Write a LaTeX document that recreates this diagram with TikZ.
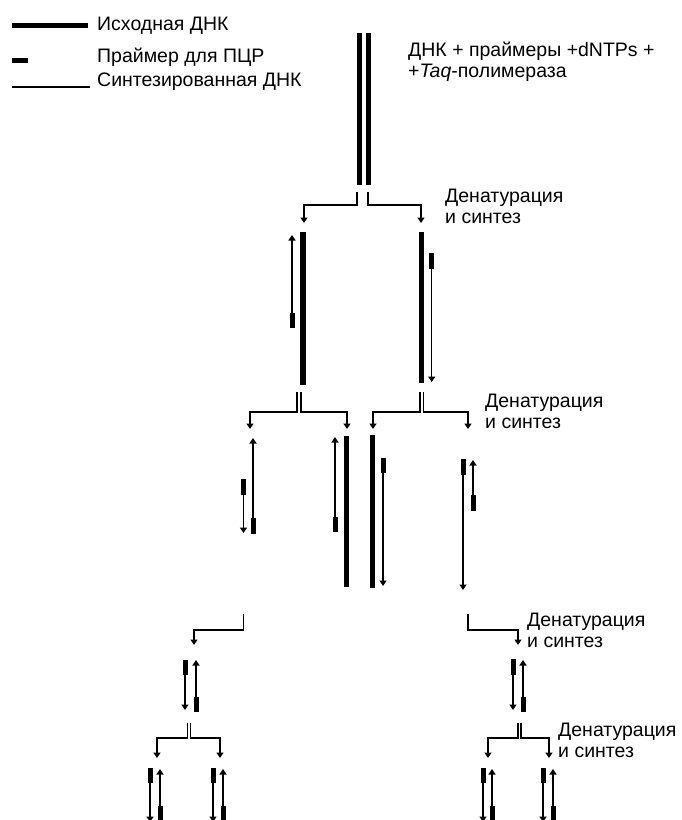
\documentclass[tikz,border=0pt]{standalone}
\usepackage{fontspec}
\setmainfont{Liberation Sans}
\usetikzlibrary{arrows.meta}

% parent (template) strand: a thick bar between two named ends
\newcommand{\parentstrand}[4]{%
  \coordinate (#1-a) at (#2,#3);
  \coordinate (#1-b) at (#2,#4);
  \draw[orig] (#1-a) -- (#1-b);}
% new strand: primer block, then thin synthesised line ending in an arrow
\newcommand{\newstrand}[5]{%
  \coordinate (#1-p) at (#2,#3);
  \coordinate (#1-q) at (#2,#4);
  \coordinate (#1-t) at (#2,#5);
  \draw[primer] (#1-p) -- (#1-q);
  \draw[synth,tipped] (#1-q) -- (#1-t);}
% split: short vertical from a strand pair, elbow, arrow down to a daughter
\newcommand{\splitlink}[6]{%
  \coordinate (#1-s) at (#2,#3);
  \coordinate (#1-e) at (#5,#6);
  \draw[link] (#1-s) |- (#5,#4) -- (#1-e);}

\begin{document}
\begin{tikzpicture}[x=1pt,y=-1pt,
  orig/.style={line width=5.2pt},
  primer/.style={line width=5pt},
  synth/.style={line width=1.5pt},
  tipped/.style={-{Triangle[width=7pt,length=5.5pt]}},
  link/.style={line width=1.5pt,-{Triangle[width=7pt,length=5.5pt]}},
  lbl/.style={anchor=north west,inner sep=0pt,align=left,
              font=\fontsize{19.5}{21}\selectfont}]
\useasboundingbox (0,0) rectangle (681,820);

% ---------- legend ----------
\coordinate (lg1a) at (12,25.5); \coordinate (lg1b) at (88,25.5);
\coordinate (lg2a) at (12,60);   \coordinate (lg2b) at (28,60);
\coordinate (lg3a) at (12,87);   \coordinate (lg3b) at (90,87);
\draw[orig]   (lg1a) -- (lg1b);
\draw[primer] (lg2a) -- (lg2b);
\draw[synth]  (lg3a) -- (lg3b);
\node[lbl] (t-lg1) at (97,17) {Исходная ДНК};
\node[lbl] (t-lg2) at (97,47.5) {Праймер для ПЦР};
\node[lbl] (t-lg3) at (97,72.5) {Синтезированная ДНК};

% ---------- starting duplex ----------
\parentstrand{d0l}{359.5}{33}{185}
\parentstrand{d0r}{368.5}{33}{185}
\node[lbl] (t-mix) at (408,41.5) {ДНК + праймеры +dNTPs +\\+\textit{Taq}-полимераза};

% ---------- cycle 1 ----------
\splitlink{c1l}{357}{192}{205}{304}{223}
\splitlink{c1r}{368}{192}{205}{421}{223}
\node[lbl] (t-c1) at (445,188.8) {Денатурация\\и синтез};

\parentstrand{p1l}{303}{232}{385}
\newstrand{n1l}{292}{328}{313}{235}
\parentstrand{p1r}{421.7}{232}{383}
\newstrand{n1r}{431.7}{253}{269}{382}

% ---------- cycle 2 ----------
\splitlink{c2a}{297}{392}{412}{250}{429}
\splitlink{c2b}{301}{392}{412}{347}{429}
\splitlink{c2c}{420}{392}{412}{373}{429}
\splitlink{c2d}{423.5}{392}{412}{468}{429}
\node[lbl] (t-c2) at (485,393.8) {Денатурация\\и синтез};

% group A: two short products
\newstrand{a2r}{253}{534}{518}{438}
\newstrand{a2l}{243.5}{479}{495}{533}
% group B: template plus copy
\parentstrand{b2p}{346.3}{436}{587}
\newstrand{b2n}{335}{532}{517}{437}
% group C: template plus copy
\parentstrand{c2p}{372.7}{435}{588}
\newstrand{c2n}{383}{458}{473}{586}
% group D: two products
\newstrand{d2l}{463}{459}{475}{590}
\newstrand{d2r}{473}{511}{495}{460}

% ---------- cycle 3 ----------
\coordinate (c3l-s) at (243.5,614);
\coordinate (c3l-e) at (194,645);
\draw[link] (c3l-s) |- (194,630) -- (c3l-e);
\coordinate (c3r-s) at (468,614);
\coordinate (c3r-e) at (518,645);
\draw[link] (c3r-s) |- (518,630) -- (c3r-e);
\node[lbl] (t-c3) at (527,612.8) {Денатурация\\и синтез};

\newstrand{l3a}{185}{660}{675}{710}
\newstrand{l3b}{196}{712}{697}{660}
\newstrand{r3a}{513}{659}{675}{710}
\newstrand{r3b}{523}{712}{697}{660}

% ---------- cycle 4 ----------
\splitlink{c4a}{187.5}{723}{738}{157}{758}
\splitlink{c4b}{190.5}{723}{738}{220}{758}
\splitlink{c4c}{518}{723}{738}{488}{758}
\splitlink{c4d}{521}{723}{738}{549}{758}
\node[lbl] (t-c4) at (558,722.8) {Денатурация\\и синтез};

\newstrand{g4a}{150}{768}{783}{822}
\newstrand{g4b}{160}{822}{806}{769}
\newstrand{g4c}{213}{768}{783}{822}
\newstrand{g4d}{223}{822}{806}{769}
\newstrand{g4e}{483}{768}{783}{822}
\newstrand{g4f}{492}{822}{806}{769}
\newstrand{g4g}{543}{768}{783}{822}
\newstrand{g4h}{553}{822}{806}{769}
\end{tikzpicture}
\end{document}
